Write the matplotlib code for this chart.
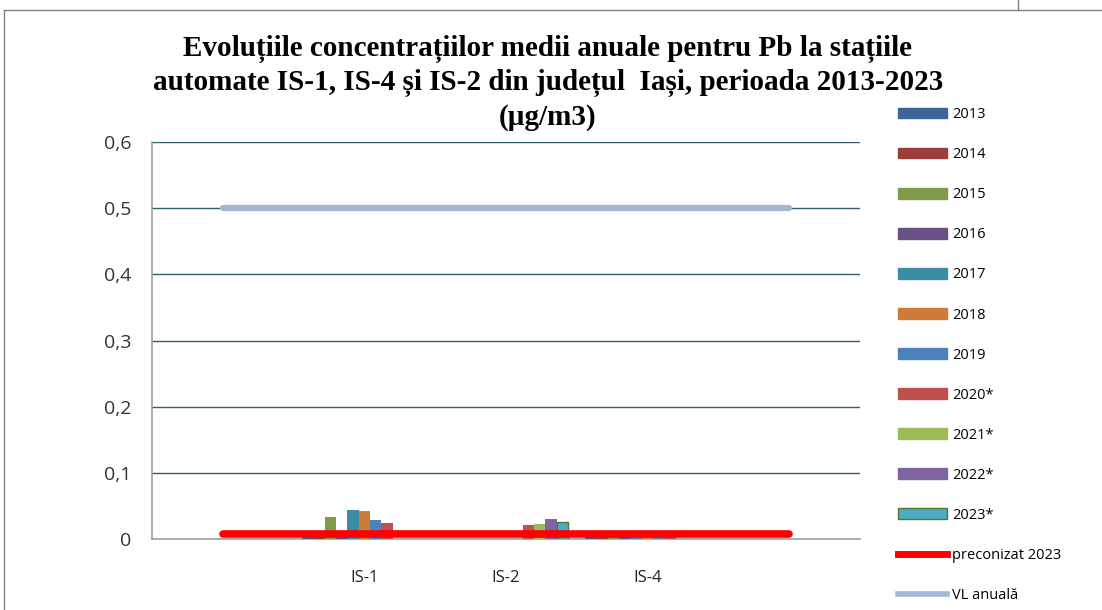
import matplotlib
matplotlib.use("Agg")
import matplotlib.pyplot as plt
import matplotlib.patches as mpatches
import matplotlib.lines as mlines
import numpy as np

# categories (Excel chart has empty slots on both ends)
stations = ["", "IS-1", "IS-2", "IS-4", ""]
years = ["2013", "2014", "2015", "2016", "2017", "2018", "2019",
         "2020*", "2021*", "2022*", "2023*"]

# annual means (ug/m3), one list per year, per station slot
v2013 = [np.nan, 0.004, np.nan, 0.003, np.nan]
v2014 = [np.nan, 0.005, np.nan, 0.004, np.nan]
v2015 = [np.nan, 0.033, np.nan, 0.004, np.nan]
v2016 = [np.nan, 0.006, np.nan, 0.003, np.nan]
v2017 = [np.nan, 0.044, np.nan, 0.003, np.nan]
v2018 = [np.nan, 0.042, np.nan, 0.004, np.nan]
v2019 = [np.nan, 0.028, np.nan, 0.004, np.nan]
v2020 = [np.nan, 0.024, 0.021, 0.004, np.nan]
v2021 = [np.nan, np.nan, 0.023, np.nan, np.nan]
v2022 = [np.nan, np.nan, 0.030, np.nan, np.nan]
v2023 = [np.nan, np.nan, 0.025, np.nan, np.nan]
values = [v2013, v2014, v2015, v2016, v2017, v2018, v2019,
          v2020, v2021, v2022, v2023]

preconizat_2023 = 0.008
vl_anuala = 0.5

colors = ["#3D6599", "#9C3D3B", "#7F9A48", "#695185", "#3C8DA3", "#CC7B38",
          "#4F81BD", "#C0504D", "#9BBB59", "#8064A2", "#4BACC6"]

fig = plt.figure(figsize=(11.02, 6.10), dpi=100)
ax = fig.add_axes([0.138, 0.1164, 0.642, 0.6508])

x = np.arange(len(stations))
n = len(years)
bw = 1.0 / (n + 1.5)
for i, (vals, c) in enumerate(zip(values, colors)):
    ec = "#5B7133" if i == n - 1 else c
    lw = 1.0 if i == n - 1 else 0
    ax.bar(x - n * bw / 2 + (i + 0.5) * bw, vals, width=bw, color=c,
           edgecolor=ec, linewidth=lw, zorder=3)

ax.plot([0, len(stations) - 1], [vl_anuala] * 2, color="#A5B6D4", lw=4.5,
        solid_capstyle="round", zorder=4)
ax.plot([0, len(stations) - 1], [preconizat_2023] * 2, color="#FF0000", lw=5.5,
        solid_capstyle="round", zorder=5)

ax.set_xlim(-0.5, len(stations) - 0.5)
ax.set_ylim(0, 0.6)
ax.set_yticks(np.arange(0, 0.61, 0.1))
ax.set_yticklabels(["0", "0,1", "0,2", "0,3", "0,4", "0,5", "0,6"],
                   fontsize=14, color="#333333", family="Open Sans")
ax.set_xticks(x)
ax.set_xticklabels(stations, fontsize=12, color="#222222", family="Open Sans")
ax.tick_params(length=0, pad=15, axis="y")
ax.tick_params(length=0, pad=22, axis="x")
ax.grid(axis="y", color="#2E6072", lw=1.0, zorder=0)
ax.set_axisbelow(True)
for s in ["top", "right"]:
    ax.spines[s].set_visible(False)
for s in ["left", "bottom"]:
    ax.spines[s].set_color("#A0A0A0")
    ax.spines[s].set_linewidth(1.2)

fig.text(0.497, 0.864, "Evoluțiile concentrațiilor medii anuale pentru Pb la stațiile\n"
         "automate IS-1, IS-4 și IS-2 din județul  Iași, perioada 2013-2023\n(µg/m3)",
         ha="center", va="center", fontsize=21, fontweight="bold",
         family="Liberation Serif", linespacing=1.3)

handles = [mpatches.Patch(facecolor=c, edgecolor=("#5B7133" if i == n - 1 else c))
           for i, c in enumerate(colors)]
handles.append(mlines.Line2D([], [], color="#FF0000", lw=5))
handles.append(mlines.Line2D([], [], color="#A5B6D4", lw=4))
labels = years + ["preconizat 2023", "VL anuală"]
fig.legend(handles, labels, loc="upper left", bbox_to_anchor=(0.810, 0.834),
           frameon=False, prop={"family": "Open Sans", "size": 10.5},
           handlelength=3.3, handleheight=0.75, labelspacing=1.72,
           handletextpad=0.4, borderaxespad=0)

# page border lines
fig.add_artist(mlines.Line2D([0.004, 1.0], [0.984, 0.984], color="#808080", lw=1))
fig.add_artist(mlines.Line2D([0.004, 0.004], [0.0, 0.984], color="#808080", lw=1))
fig.add_artist(mlines.Line2D([0.924, 0.924], [0.984, 1.0], color="#808080", lw=1))

fig.savefig("out.png", dpi=100)
